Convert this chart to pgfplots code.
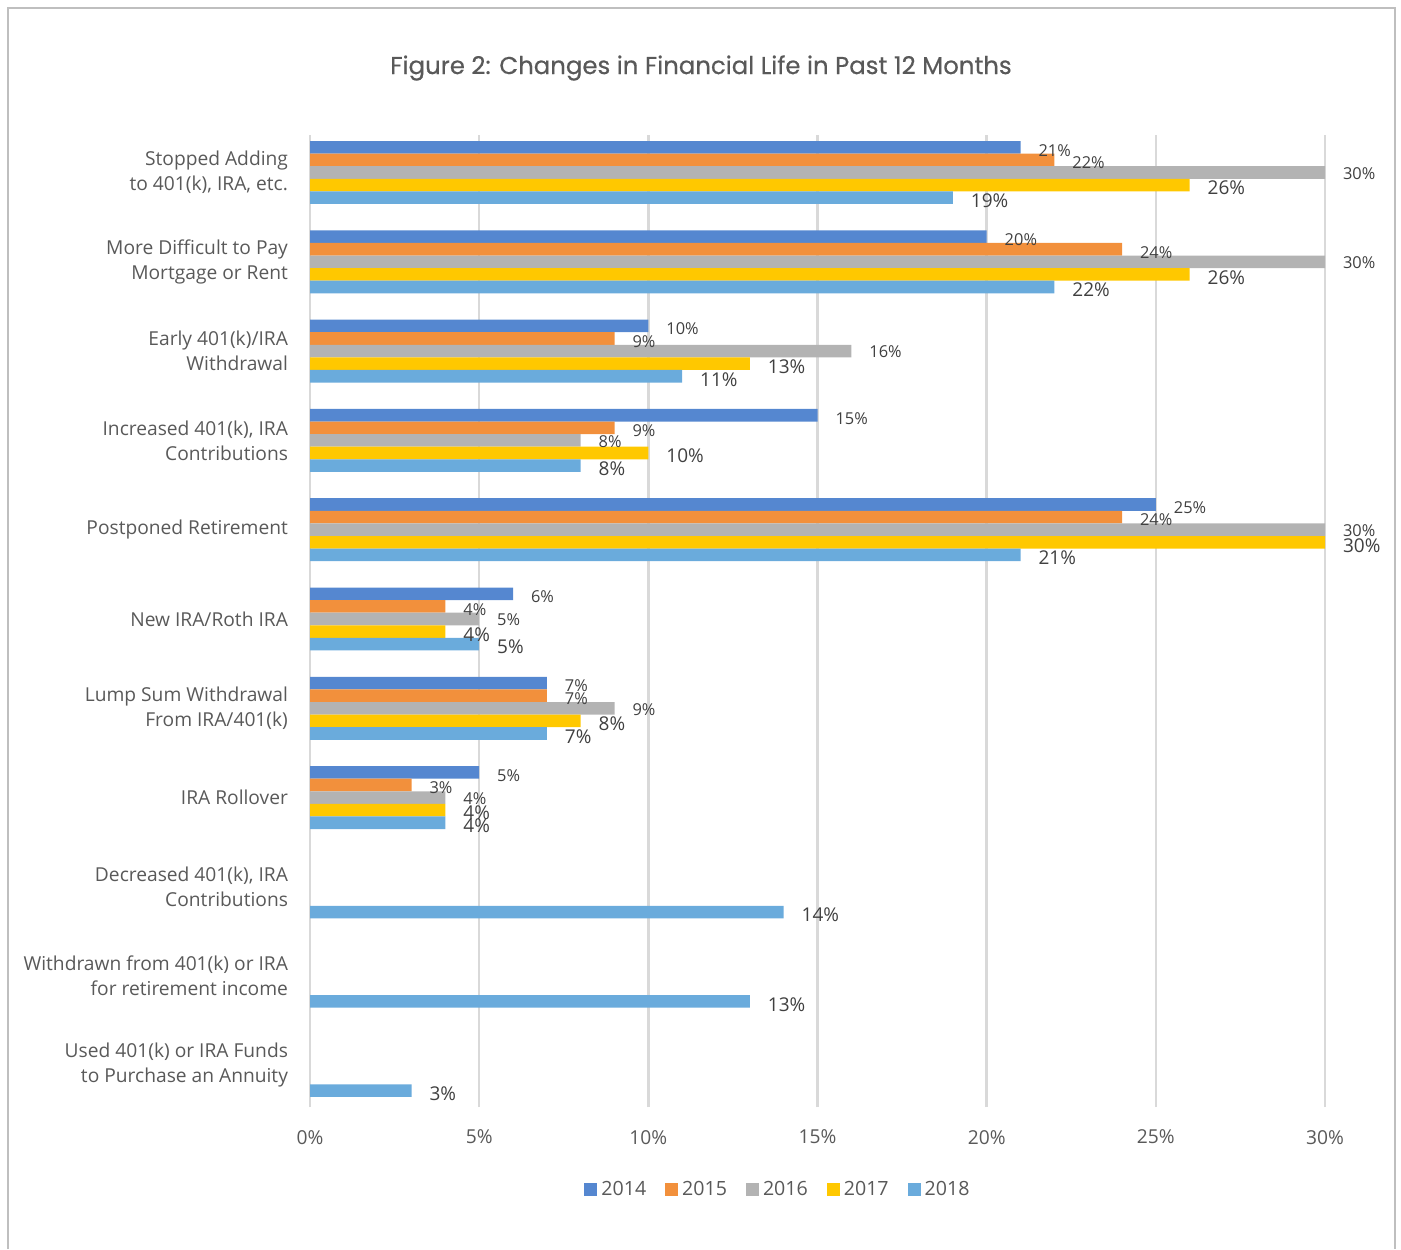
\documentclass[border=0pt]{standalone}
\usepackage{fontspec}
\setmainfont{Open Sans}
\newfontfamily\titlefont{Poppins}[FakeBold=0.5]
\usepackage{pgfplots}
\pgfplotsset{compat=1.18}

\definecolor{c2014}{HTML}{5587D0}
\definecolor{c2015}{HTML}{F2903C}
\definecolor{c2016}{HTML}{B3B3B3}
\definecolor{c2017}{HTML}{FFC800}
\definecolor{c2018}{HTML}{6AABDC}
\definecolor{txtgray}{HTML}{595959}
\definecolor{lblgray}{HTML}{404040}
\definecolor{gridgray}{HTML}{D9D9D9}
\definecolor{framegray}{HTML}{BFBFBF}

\begin{document}
\begin{tikzpicture}
% frame and title, in pixel units of the reference
\begin{scope}[x=0.5pt,y=-0.5pt]
\useasboundingbox (0,0) rectangle (1401,1249);
\draw[framegray, line width=0.9pt] (8,1249) -- (8,8) -- (1395,8) -- (1395,1249);
\node[font=\titlefont\fontsize{12.2}{14}\selectfont, text=txtgray] at (701,68)
  {Figure 2: Changes in Financial Life in Past 12 Months};
\end{scope}

\begin{axis}[
  at={(155pt,-67.5pt)}, anchor=north west,
  scale only axis, width=507.5pt, height=486pt,
  xbar, bar width=0.141, clip=false,
  xmin=0, xmax=30, ymin=-0.465, ymax=10.42,
  axis line style={draw=none},
  major tick length=0pt,
  xtick={0,5,...,30},
  xticklabel={\pgfmathprintnumber{\tick}\%},
  /pgf/number format/assume math mode=true,
  xmajorgrids, grid style={gridgray, line width=1.2pt},
  x tick label style={font=\fontsize{9.6}{11}\selectfont, text=txtgray, yshift=-8pt},
  ytick={0,...,10},
  yticklabels={
    {Used 401(k) or IRA Funds\\to Purchase an Annuity},
    {Withdrawn from 401(k) or IRA\\for retirement income},
    {Decreased 401(k), IRA\\Contributions},
    {IRA Rollover},
    {Lump Sum Withdrawal\\From IRA/401(k)},
    {New IRA/Roth IRA},
    {Postponed Retirement},
    {Increased 401(k), IRA\\Contributions},
    {Early 401(k)/IRA\\Withdrawal},
    {More Difficult to Pay\\Mortgage or Rent},
    {Stopped Adding\\to 401(k), IRA, etc.}},
  y tick label style={align=right, font=\fontsize{9.6}{12.5}\selectfont, text=txtgray, xshift=-7.5pt},
  every axis plot/.append style={draw=none},
  nodes near coords={\pgfmathprintnumber{\pgfplotspointmeta}\%},
  nodes near coords style={anchor=west, xshift=5.5pt, yshift=-1.5pt, text=lblgray,
    font=\fontsize{8.2}{9}\selectfont},
  legend style={at={(0.462,-0.085)}, anchor=center, draw=none, legend columns=-1,
    font=\fontsize{9.8}{11}\selectfont, text=txtgray,
    /tikz/every even column/.append style={column sep=7.5pt}},
  legend image code/.code={\fill[#1] (0pt,-3.25pt) rectangle (6.5pt,3.25pt);},
]

% 2014
\addplot[fill=c2014, bar shift=0.282] coordinates {
  (21,10) (20,9) (10,8) (15,7) (25,6) (6,5) (7,4) (5,3)
};
% 2015
\addplot[fill=c2015, bar shift=0.141] coordinates {
  (22,10) (24,9) (9,8) (9,7) (24,6) (4,5) (7,4) (3,3)
};
% 2016
\addplot[fill=c2016, bar shift=0,
  nodes near coords style={yshift=1pt}] coordinates {
  (30,10) (30,9) (16,8) (8,7) (30,6) (5,5) (9,4) (4,3)
};
% 2017
\addplot[fill=c2017, bar shift=-0.141,
  nodes near coords style={font=\fontsize{9.5}{10}\selectfont}] coordinates {
  (26,10) (26,9) (13,8) (10,7) (30,6) (4,5) (8,4) (4,3)
};
% 2018
\addplot[fill=c2018, bar shift=-0.282,
  nodes near coords style={font=\fontsize{9.5}{10}\selectfont}] coordinates {
  (19,10) (22,9) (11,8) (8,7) (21,6) (5,5) (7,4) (4,3) (14,2) (13,1) (3,0)
};

\legend{2014,2015,2016,2017,2018}
\end{axis}
\end{tikzpicture}
\end{document}
